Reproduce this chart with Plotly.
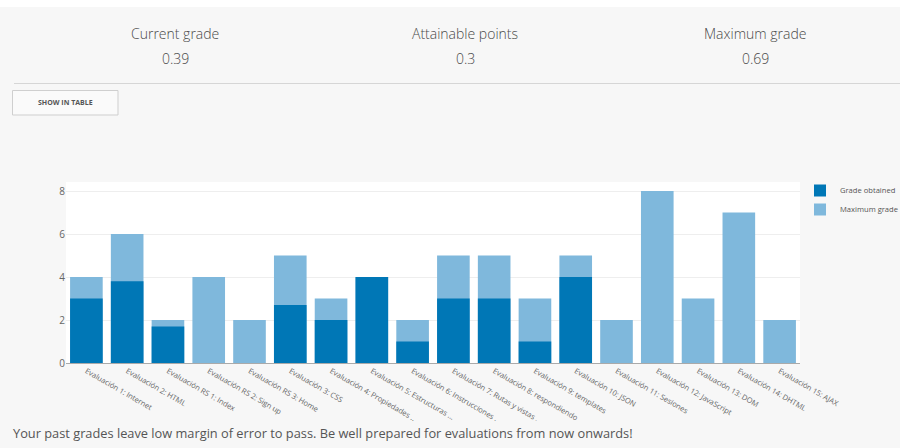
import plotly.graph_objects as go

categories = [
    "Evaluación 1: Internet",
    "Evaluación 2: HTML",
    "Evaluación RS 1: Index",
    "Evaluación RS 2: Sign up",
    "Evaluación RS 3: Home",
    "Evaluación 3: CSS",
    "Evaluación 4: Propiedades ...",
    "Evaluación 5: Estructuras ...",
    "Evaluación 6: Instrucciones ...",
    "Evaluación 7: Rutas y vistas ...",
    "Evaluación 8: respondiendo ...",
    "Evaluación 9: templates",
    "Evaluación 10: JSON",
    "Evaluación 11: Sesiones",
    "Evaluación 12: JavaScript",
    "Evaluación 13: DOM",
    "Evaluación 14: DHTML",
    "Evaluación 15: AJAX",
]
grade_obtained = [3, 3.8, 1.7, 0, 0, 2.7, 2, 4, 1, 3, 3, 1, 4, 0, 0, 0, 0, 0]
maximum_grade = [4, 6, 2, 4, 2, 5, 3, 4, 2, 5, 5, 3, 5, 2, 8, 3, 7, 2]

summary_labels = ["Current grade", "Attainable points", "Maximum grade"]
summary_values = ["0.39", "0.3", "0.69"]
message = "Your past grades leave low margin of error to pass. Be well prepared for evaluations from now onwards!"

W, H = 900, 448
L, R, T, B = 66, 100, 182, 85
PW, PH = W - L - R, H - T - B


def px(x):
    return (x - L) / PW


def py(y):
    return (H - B - y) / PH


DARK = "#0077b6"
LIGHT = "#7fb8dc"
BG = "#f7f7f7"
FONT = "Open Sans"

fig = go.Figure()
fig.add_trace(go.Bar(x=categories, y=maximum_grade, name="Maximum grade",
                     marker=dict(color=LIGHT, line=dict(width=0))))
fig.add_trace(go.Bar(x=categories, y=grade_obtained, name="Grade obtained",
                     marker=dict(color=DARK, line=dict(width=0))))

shapes = [
    # white strip at the very top
    dict(type="rect", xref="paper", yref="paper", x0=px(-5), x1=px(905), y0=py(7), y1=py(-5),
         fillcolor="white", line=dict(width=0), layer="above"),
    # separator line
    dict(type="line", xref="paper", yref="paper", x0=px(14), x1=px(905), y0=py(83.5), y1=py(83.5),
         line=dict(color="#d6d6d6", width=1.2), layer="above"),
    # button
    dict(type="rect", xref="paper", yref="paper", x0=px(12.5), x1=px(118), y0=py(115), y1=py(90.5),
         fillcolor="#fafafa", line=dict(color="#cfcfcf", width=1), layer="above"),
    # cover to clip long tick labels
    dict(type="rect", xref="paper", yref="paper", x0=px(-5), x1=px(905), y0=py(453), y1=py(421),
         fillcolor=BG, line=dict(width=0), layer="above"),
]

annotations = []
for i, (lab, val) in enumerate(zip(summary_labels, summary_values)):
    cx = [175, 465, 755][i]
    annotations.append(dict(text=lab, x=px(cx), y=py(33), xref="paper", yref="paper",
                            showarrow=False, xanchor="center", yanchor="middle",
                            font=dict(family=FONT, size=14, color="#4a4a4a", weight=300)))
    annotations.append(dict(text=val, x=px(cx), y=py(58), xref="paper", yref="paper",
                            showarrow=False, xanchor="center", yanchor="middle",
                            font=dict(family=FONT, size=14, color="#4a4a4a", weight=300)))
annotations.append(dict(text="SHOW IN TABLE", x=px(65), y=py(103), xref="paper", yref="paper",
                        showarrow=False, xanchor="center", yanchor="middle",
                        font=dict(family=FONT, size=7, color="#555", weight=700)))
annotations.append(dict(text=message, x=px(11), y=py(433), xref="paper", yref="paper",
                        showarrow=False, xanchor="left", yanchor="middle",
                        font=dict(family=FONT, size=12.8, color="#555")))

fig.update_layout(
    width=W, height=H,
    margin=dict(l=L, r=R, t=T, b=B, pad=0),
    paper_bgcolor=BG, plot_bgcolor="white",
    barmode="overlay", bargap=0.2,
    font=dict(family=FONT, color="#666"),
    showlegend=True,
    legend=dict(xref="container", yref="container", x=800 / W, y=1 - 176 / H,
                xanchor="left", yanchor="top", traceorder="reversed",
                font=dict(size=7.6, color="#555"), bgcolor="rgba(0,0,0,0)"),
    shapes=shapes,
    annotations=annotations,
    xaxis=dict(tickangle=30, tickfont=dict(size=7.5, color="#666"), showline=True,
               linecolor="#aaa", linewidth=1, showgrid=False, ticks="", automargin=False),
    yaxis=dict(dtick=2, tickfont=dict(size=10, color="#666"), gridcolor="#eeeeee",
               zeroline=False, showline=False, ticks="", automargin=False),
)

fig.write_html("out.html")
